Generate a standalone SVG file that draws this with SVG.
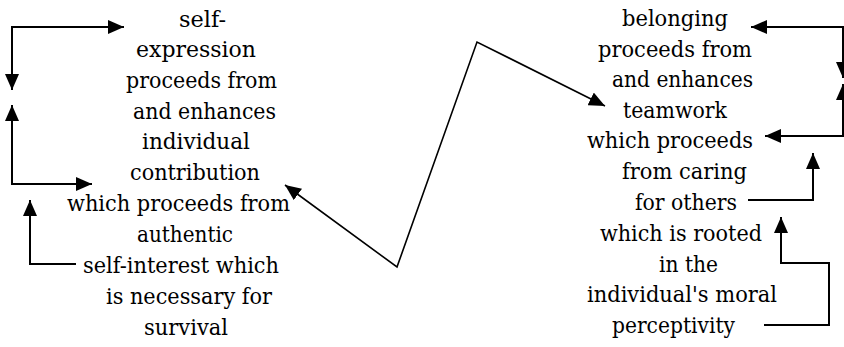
<svg xmlns="http://www.w3.org/2000/svg" width="844" height="347" viewBox="0 0 844 347">
<style>
  text { font-family: 'DejaVu Serif', 'Liberation Serif', serif; font-size: 23px; fill: #000; }
  .c { fill: none; stroke: #000; stroke-width: 2; }
  .d { fill: none; stroke: #000; stroke-width: 1.6; }
</style>
<defs>
  <marker id="ah" markerUnits="userSpaceOnUse" markerWidth="16" markerHeight="14" refX="16" refY="7" orient="auto-start-reverse">
    <path d="M0,0 L16,7 L0,14 z" fill="#000"/>
  </marker>
</defs>
<rect width="844" height="347" fill="#fff"/>
<g id="connectors">
  <path class="c" d="M12,90 L12,27 L124,27" marker-start="url(#ah)" marker-end="url(#ah)"/>
  <path class="c" d="M12,105 L12,184 L92,184" marker-start="url(#ah)" marker-end="url(#ah)"/>
  <path class="c" d="M76,264 L30,264 L30,200" marker-end="url(#ah)"/>
  <path class="d" d="M285,185 L397,267 L477,42 L605,106" marker-start="url(#ah)" marker-end="url(#ah)"/>
  <path class="c" d="M751,27 L843,27 L843,78" marker-start="url(#ah)" marker-end="url(#ah)"/>
  <path class="c" d="M765,136 L843,136 L843,84" marker-start="url(#ah)" marker-end="url(#ah)"/>
  <path class="c" d="M748,200 L813,200 L813,153" marker-end="url(#ah)"/>
  <path class="c" d="M764,325 L829,325 L829,263 L781,263 L781,217" marker-end="url(#ah)"/>
</g>
<g id="node-left">
  <text x="179" y="27" textLength="47" lengthAdjust="spacingAndGlyphs">self-</text>
  <text x="136" y="57" textLength="120" lengthAdjust="spacingAndGlyphs">expression</text>
  <text x="126" y="88" textLength="151" lengthAdjust="spacingAndGlyphs">proceeds from</text>
  <text x="133" y="119" textLength="143" lengthAdjust="spacingAndGlyphs">and enhances</text>
  <text x="142" y="149" textLength="108" lengthAdjust="spacingAndGlyphs">individual</text>
  <text x="130" y="180" textLength="130" lengthAdjust="spacingAndGlyphs">contribution</text>
  <text x="67" y="211" textLength="223" lengthAdjust="spacingAndGlyphs">which proceeds from</text>
  <text x="137" y="242" textLength="96" lengthAdjust="spacingAndGlyphs">authentic</text>
  <text x="83" y="273" textLength="196" lengthAdjust="spacingAndGlyphs">self-interest which</text>
  <text x="106" y="304" textLength="166" lengthAdjust="spacingAndGlyphs">is necessary for</text>
  <text x="144" y="335" textLength="84" lengthAdjust="spacingAndGlyphs">survival</text>
</g>
<g id="node-right">
  <text x="622" y="26" textLength="106" lengthAdjust="spacingAndGlyphs">belonging</text>
  <text x="598" y="57" textLength="154" lengthAdjust="spacingAndGlyphs">proceeds from</text>
  <text x="612" y="87" textLength="141" lengthAdjust="spacingAndGlyphs">and enhances</text>
  <text x="623" y="118" textLength="104" lengthAdjust="spacingAndGlyphs">teamwork</text>
  <text x="587" y="148" textLength="166" lengthAdjust="spacingAndGlyphs">which proceeds</text>
  <text x="622" y="179" textLength="125" lengthAdjust="spacingAndGlyphs">from caring</text>
  <text x="635" y="210" textLength="102" lengthAdjust="spacingAndGlyphs">for others</text>
  <text x="600" y="241" textLength="162" lengthAdjust="spacingAndGlyphs">which is rooted</text>
  <text x="659" y="272" textLength="59" lengthAdjust="spacingAndGlyphs">in the</text>
  <text x="587" y="302" textLength="190" lengthAdjust="spacingAndGlyphs">individual's moral</text>
  <text x="612" y="333" textLength="123" lengthAdjust="spacingAndGlyphs">perceptivity</text>
</g>
</svg>
